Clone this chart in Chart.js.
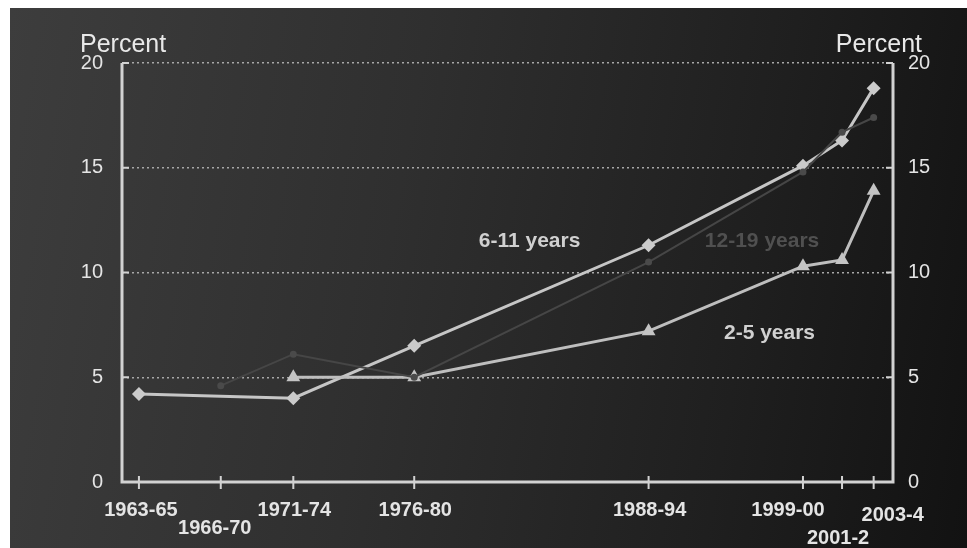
<!DOCTYPE html>
<html>
<head>
<meta charset="utf-8">
<script src="https://cdn.jsdelivr.net/npm/chart.js@4"></script>
<style>
  html, body { margin: 0; padding: 0; background: #ffffff; }
  #wrap {
    position: absolute; left: 10px; top: 8px; width: 957px; height: 540px;
    background: linear-gradient(100deg, #3d3d3d 0%, #2f2f2f 40%, #1f1f1f 75%, #121212 100%);
  }
</style>
</head>
<body>
<div id="wrap"><canvas id="obesity"></canvas></div>
<script>
// survey periods and where each sits on the time axis (mid-survey year)
var periods = ['1963-65', '1966-70', '1971-74', '1976-80', '1988-94', '1999-00', '2001-2', '2003-4'];
var periodYear = [1964, 1968.4, 1972.3, 1978.8, 1991.4, 1999.7, 2001.8, 2003.5];

// percent overweight by age group, null where not surveyed
var ages6to11 = [4.2, null, 4.0, 6.5, 11.3, 15.1, 16.3, 18.8];
var ages12to19 = [null, 4.6, 6.1, 5.0, 10.5, 14.8, 16.7, 17.4];
var ages2to5 = [null, null, 5.0, 5.0, 7.2, 10.3, 10.6, 13.9];

var percentTicks = [0, 5, 10, 15, 20];

var FONT = '"Liberation Sans", Arial, sans-serif';

function toPoints(values) {
    var pts = [];
    values.forEach(function(v, i) {
        if (v !== null) {
            pts.push({x: periodYear[i], y: v});
        }
    });
    return pts;
}

// axis frame, inward ticks, period labels and series captions
var framePlugin = {
    id: 'frame',
    beforeDatasetsDraw: function(chart) {
        var ctx = chart.ctx;
        var a = chart.chartArea;
        var xs = chart.scales.x;
        var ys = chart.scales.y;
        ctx.save();
        ctx.strokeStyle = '#d2d2d2';
        ctx.lineWidth = 3;
        ctx.beginPath();
        ctx.moveTo(a.left, a.top);
        ctx.lineTo(a.left, a.bottom);
        ctx.lineTo(a.right, a.bottom);
        ctx.lineTo(a.right, a.top);
        ctx.stroke();

        ctx.lineWidth = 2;
        ctx.beginPath();
        percentTicks.forEach(function(t) {
            if (t === 0) {
                return;
            }
            var py = ys.getPixelForValue(t);
            ctx.moveTo(a.left, py);
            ctx.lineTo(a.left + 7, py);
            ctx.moveTo(a.right, py);
            ctx.lineTo(a.right - 7, py);
        });
        periodYear.forEach(function(yr) {
            var px = xs.getPixelForValue(yr);
            ctx.moveTo(px, a.bottom - 6);
            ctx.lineTo(px, a.bottom + 7);
        });
        ctx.stroke();
        ctx.restore();
    },
    afterDraw: function(chart) {
        var ctx = chart.ctx;
        var a = chart.chartArea;
        var xs = chart.scales.x;
        var ys = chart.scales.y;
        ctx.save();

        // period labels, a few dropped to a second row so they don't collide
        var nudge = {
            '1963-65': [2, 0], '1966-70': [-6, 18], '1971-74': [1, 0], '1976-80': [1, 0],
            '1988-94': [1, 0], '1999-00': [-15, 0], '2001-2': [-4, 28], '2003-4': [19, 5]
        };
        ctx.fillStyle = '#e4e4e4';
        ctx.font = 'bold 20px ' + FONT;
        ctx.textAlign = 'center';
        ctx.textBaseline = 'middle';
        periods.forEach(function(p, i) {
            var n = nudge[p];
            ctx.fillText(p, xs.getPixelForValue(periodYear[i]) + n[0], a.bottom + 28 + n[1]);
        });

        // axis titles
        ctx.font = '25px ' + FONT;
        ctx.textBaseline = 'alphabetic';
        ctx.fillStyle = '#e8e8e8';
        ctx.textAlign = 'left';
        ctx.fillText('Percent', a.left - 42, a.top - 11);
        ctx.textAlign = 'right';
        ctx.fillText('Percent', a.right + 29, a.top - 11);

        // series captions
        ctx.font = 'bold 21px ' + FONT;
        ctx.textAlign = 'center';
        ctx.textBaseline = 'middle';
        ctx.fillStyle = '#d0d0d0';
        ctx.fillText('6-11 years', xs.getPixelForValue(1985.0), ys.getPixelForValue(11.5));
        ctx.fillStyle = '#505050';
        ctx.fillText('12-19 years', xs.getPixelForValue(1997.5), ys.getPixelForValue(11.5));
        ctx.fillStyle = '#d0d0d0';
        ctx.fillText('2-5 years', xs.getPixelForValue(1997.9), ys.getPixelForValue(7.1));
        ctx.restore();
    }
};

var yTicks = {
    color: '#e4e4e4',
    font: {family: FONT, size: 20},
    stepSize: 5
};

new Chart(document.getElementById('obesity'), {
    type: 'line',
    data: {
        datasets: [{
            label: '12-19 years',
            data: toPoints(ages12to19),
            borderColor: '#464646',
            backgroundColor: '#4a4a4a',
            borderWidth: 2,
            pointStyle: 'circle',
            pointRadius: 3.5,
            pointBorderWidth: 0
        }, {
            label: '2-5 years',
            data: toPoints(ages2to5),
            borderColor: '#bebebe',
            backgroundColor: '#c4c4c4',
            borderWidth: 3,
            pointStyle: 'triangle',
            pointRadius: 8,
            pointBorderWidth: 0
        }, {
            label: '6-11 years',
            data: toPoints(ages6to11),
            borderColor: '#c6c6c6',
            backgroundColor: '#cbcbcb',
            borderWidth: 3,
            pointStyle: 'rectRot',
            pointRadius: 7,
            pointBorderWidth: 0
        }]
    },
    options: {
        responsive: true,
        maintainAspectRatio: false,
        animation: false,
        layout: {
            padding: {left: 0, right: 0, top: 55, bottom: 66}
        },
        scales: {
            x: {
                type: 'linear',
                display: false,
                min: 1963.09,
                max: 2004.54
            },
            y: {
                position: 'left',
                min: 0,
                max: 20,
                ticks: Object.assign({padding: 19}, yTicks),
                grid: {
                    drawTicks: false,
                    color: function(c) {
                        return c.tick.value === 0 ? 'rgba(0,0,0,0)' : '#a8a8a8';
                    },
                    lineWidth: 1.5
                },
                border: {display: false, dash: [2, 3]},
                afterFit: function(scale) {
                    scale.width = 112;
                }
            },
            y2: {
                position: 'right',
                min: 0,
                max: 20,
                ticks: Object.assign({padding: 15}, yTicks),
                grid: {drawOnChartArea: false, drawTicks: false},
                border: {display: false},
                afterFit: function(scale) {
                    scale.width = 74;
                }
            }
        },
        plugins: {
            legend: {display: false},
            tooltip: {enabled: false}
        }
    },
    plugins: [framePlugin]
});
</script>
</body>
</html>
